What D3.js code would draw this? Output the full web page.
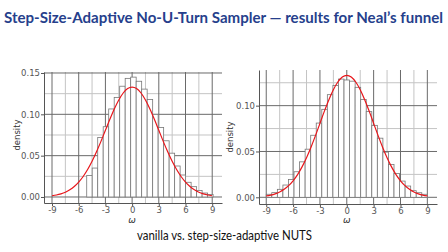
<!DOCTYPE html>
<html>
<head>
<meta charset="utf-8">
<script src="https://cdn.jsdelivr.net/npm/d3@7"></script>
<style>
  html, body { margin: 0; padding: 0; background: #fff; }
  svg { display: block; }
  .tick text { font-family: "DejaVu Sans", sans-serif; font-size: 8.5px; fill: #555; }
  .axis path, .axis line { stroke: #555; stroke-width: 1; }
</style>
</head>
<body>
<div id="chart"></div>
<script>
// tick values
var xTickVals = [-9, -6, -3, 0, 3, 6, 9],
  xMinorVals = [-7.5, -4.5, -1.5, 1.5, 4.5, 7.5],
  yTicksLeft = [0, 0.05, 0.10, 0.15],
  yMinorLeft = [0.025, 0.075, 0.125],
  yTicksRight = [0, 0.05, 0.10],
  yMinorRight = [0.025, 0.075, 0.125];

// vanilla NUTS histogram (bins span -5.1 .. 9.1)
var vanillaRange = [-5.1, 9.1],
  vanillaDensity = [0.026, 0.035, 0.072, 0.085, 0.1065, 0.1205, 0.134, 0.1435, 0.145, 0.140,
    0.1305, 0.118, 0.100, 0.084, 0.068, 0.053, 0.0375, 0.0266, 0.0178, 0.0125, 0.0078, 0.0048, 0.003];

// step-size-adaptive NUTS histogram (bins span -9 .. 9)
var adaptiveRange = [-9, 9],
  adaptiveDensity = [0.0033, 0.0051, 0.0087, 0.0134, 0.0195, 0.0279, 0.0387, 0.0525, 0.0677, 0.081,
    0.096, 0.112, 0.122, 0.129, 0.128, 0.1267, 0.120, 0.1068, 0.0935, 0.0785, 0.0645, 0.0493,
    0.0358, 0.026, 0.0177, 0.0123, 0.0072, 0.005, 0.0033];

// reference density (red curve)
var curveOmega = [-9, -8.5, -8, -7.5, -7, -6.5, -6, -5.5, -5, -4.5, -4, -3.5, -3, -2.5, -2, -1.5, -1, -0.5,
    0, 0.5, 1, 1.5, 2, 2.5, 3, 3.5, 4, 4.5, 5, 5.5, 6, 6.5, 7, 7.5, 8, 8.5, 9],
  curveDensity = [0.0015, 0.0024, 0.0038, 0.0058, 0.0087, 0.0127, 0.0180, 0.0248, 0.0332, 0.0432,
    0.0547, 0.0673, 0.0807, 0.0940, 0.1065, 0.1174, 0.1258, 0.1312, 0.1330, 0.1312, 0.1258, 0.1174,
    0.1065, 0.0940, 0.0807, 0.0673, 0.0547, 0.0432, 0.0332, 0.0248, 0.0180, 0.0127, 0.0087, 0.0058,
    0.0038, 0.0024, 0.0015];

var W = 448, H = 252;

var svg = d3.select("#chart").append("svg")
  .attr("width", W)
  .attr("height", H);

svg.append("text")
  .attr("x", 4)
  .attr("y", 23)
  .attr("textLength", 439)
  .attr("lengthAdjust", "spacingAndGlyphs")
  .style("font-family", "Lato, sans-serif")
  .style("font-weight", "bold")
  .style("font-size", "15px")
  .style("fill", "#263f8c")
  .text("Step-Size-Adaptive No-U-Turn Sampler \u2014 results for Neal\u2019s funnel");

svg.append("text")
  .attr("x", 224.5)
  .attr("y", 240)
  .attr("text-anchor", "middle")
  .attr("textLength", 175)
  .attr("lengthAdjust", "spacingAndGlyphs")
  .style("font-family", "Lato, sans-serif")
  .style("font-size", "12.5px")
  .style("fill", "#111")
  .text("vanilla vs. step-size-adaptive NUTS");

function drawPanel(opt) {
  var x = d3.scaleLinear().domain(opt.xDomain).range(opt.xRange),
    y = d3.scaleLinear().domain(opt.yDomain).range(opt.yRange),
    g = svg.append("g"),
    n = opt.density.length,
    bw = (opt.binRange[1] - opt.binRange[0]) / n;

  // grid, minor first
  g.selectAll(".vminor").data(xMinorVals).enter().append("line")
    .attr("x1", d => x(d)).attr("x2", d => x(d))
    .attr("y1", opt.yRange[0]).attr("y2", opt.yRange[1])
    .style("stroke", "#c4c4c4").style("stroke-width", 1);
  g.selectAll(".hminor").data(opt.yMinor).enter().append("line")
    .attr("x1", opt.xRange[0]).attr("x2", opt.xRange[1])
    .attr("y1", d => y(d)).attr("y2", d => y(d))
    .style("stroke", "#c4c4c4").style("stroke-width", 1);
  g.selectAll(".vmajor").data(xTickVals).enter().append("line")
    .attr("x1", d => x(d)).attr("x2", d => x(d))
    .attr("y1", opt.yRange[0]).attr("y2", opt.yRange[1])
    .style("stroke", "#6a6a6a").style("stroke-width", 1);
  g.selectAll(".hmajor").data(opt.yTicks).enter().append("line")
    .attr("x1", opt.xRange[0]).attr("x2", opt.xRange[1])
    .attr("y1", d => y(d)).attr("y2", d => y(d))
    .style("stroke", "#6a6a6a").style("stroke-width", 1);

  // histogram bars
  g.selectAll(".bar").data(opt.density).enter().append("rect")
    .attr("x", (d, i) => x(opt.binRange[0] + i * bw))
    .attr("width", (d, i) => x(opt.binRange[0] + (i + 1) * bw) - x(opt.binRange[0] + i * bw))
    .attr("y", d => y(d))
    .attr("height", d => y(0) - y(d))
    .style("fill", "#fff")
    .style("stroke", "#777")
    .style("stroke-width", 0.8);

  // reference density
  var line = d3.line()
    .curve(d3.curveMonotoneX)
    .x((d, i) => x(curveOmega[i]))
    .y(d => y(d));
  g.append("path")
    .datum(curveDensity)
    .attr("d", line)
    .style("fill", "none")
    .style("stroke", "#e8161b")
    .style("stroke-width", 1.2);

  // axes
  g.append("g")
    .attr("class", "axis")
    .attr("transform", "translate(0," + opt.yRange[0] + ")")
    .call(d3.axisBottom(x).tickValues(xTickVals).tickSize(3).tickSizeOuter(0).tickPadding(1)
      .tickFormat(d3.format("d")));
  g.append("g")
    .attr("class", "axis")
    .attr("transform", "translate(" + opt.xRange[0] + ",0)")
    .call(d3.axisLeft(y).tickValues(opt.yTicks).tickSize(3).tickSizeOuter(0).tickPadding(1)
      .tickFormat(d3.format(".2f")));
  g.selectAll(".axis .tick text").text(function() {
    return d3.select(this).text().replace("\u2212", "-");
  });

  g.append("text")
    .attr("transform", "translate(" + opt.yLabelX + "," + opt.yLabelY + ") rotate(-90)")
    .attr("text-anchor", "middle")
    .style("font-family", "DejaVu Sans, sans-serif")
    .style("font-size", "8.5px")
    .style("fill", "#333")
    .text("density");

  g.append("text")
    .attr("x", x(0))
    .attr("y", 223)
    .attr("text-anchor", "middle")
    .style("font-family", "DejaVu Sans, sans-serif")
    .style("font-style", "italic")
    .style("font-size", "9px")
    .style("fill", "#333")
    .text("\u03c9");
}

drawPanel({
  xDomain: [-9.9, 10.1], xRange: [44, 222],
  yDomain: [-0.00726, 0.1512], yRange: [203, 72],
  yTicks: yTicksLeft, yMinor: yMinorLeft,
  binRange: vanillaRange, density: vanillaDensity,
  yLabelX: 20, yLabelY: 135
});

drawPanel({
  xDomain: [-9.81, 10.08], xRange: [259, 437],
  yDomain: [-0.0073, 0.1389], yRange: [204, 70],
  yTicks: yTicksRight, yMinor: yMinorRight,
  binRange: adaptiveRange, density: adaptiveDensity,
  yLabelX: 233, yLabelY: 137
});
</script>
</body>
</html>
